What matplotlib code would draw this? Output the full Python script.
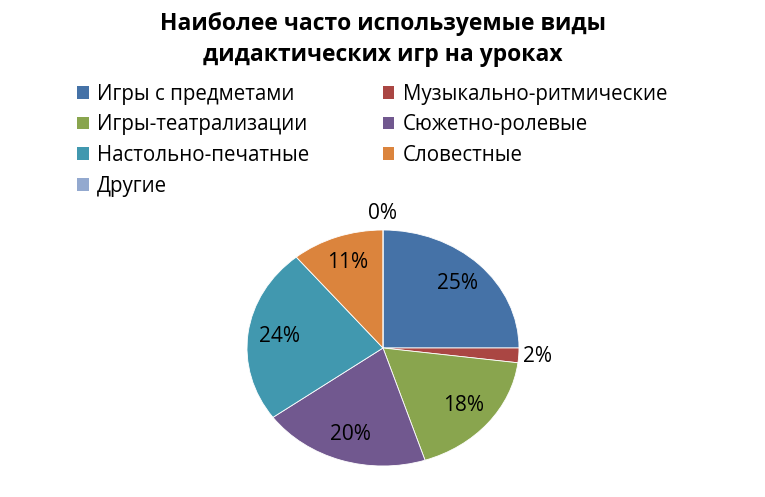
import matplotlib.pyplot as plt
import numpy as np
from matplotlib.patches import Patch

plt.rcParams["font.family"] = ["Open Sans", "DejaVu Sans"]

title = "Наиболее часто используемые виды\nдидактических игр на уроках"
categories = [
    "Игры с предметами",
    "Музыкально-ритмические",
    "Игры-театрализации",
    "Сюжетно-ролевые",
    "Настольно-печатные",
    "Словестные",
    "Другие",
]
values = [25, 2, 18, 20, 24, 11, 0]
colors = ["#4572A7", "#AA4643", "#89A54E", "#71588F", "#4198AF", "#DB843D", "#93A9CF"]

fig = plt.figure(figsize=(7.65, 4.97), dpi=100)
fig.text(0.5, 0.976, title, ha="center", va="top", fontsize=16.5, fontweight="bold",
         linespacing=1.4)

# pie is a bit squashed in the original, so use a non-square axes
ax = fig.add_axes([247 / 765, 1 - 466 / 497, 272 / 765, 236 / 497])
wedges, _ = ax.pie(values, colors=colors, startangle=90, counterclock=False,
                   wedgeprops=dict(edgecolor="white", linewidth=0.6))
ax.set_aspect("auto")
ax.set_xlim(-1, 1)
ax.set_ylim(-1, 1)

total = sum(values)
cum = 0
for v in values:
    mid = 90 - 360 * (cum + v / 2) / total
    cum += v
    r = 0.77 if v >= 5 else 1.14
    x = r * np.cos(np.radians(mid))
    y = r * np.sin(np.radians(mid))
    ax.text(x, y, f"{v}%", ha="center", va="center", fontsize=15)

# legend goes row by row in the original
order = [0, 2, 4, 6, 1, 3, 5]
handles = [Patch(facecolor=colors[i], edgecolor="none") for i in order]
labels = [categories[i] for i in order]
fig.legend(handles, labels, ncol=2, loc="upper left", bbox_to_anchor=(0.077, 0.869),
           frameon=False, fontsize=14.8, handlelength=0.55, handleheight=0.55,
           handletextpad=0.4, columnspacing=3.6, labelspacing=0.47)

fig.savefig("out.png", dpi=100)
